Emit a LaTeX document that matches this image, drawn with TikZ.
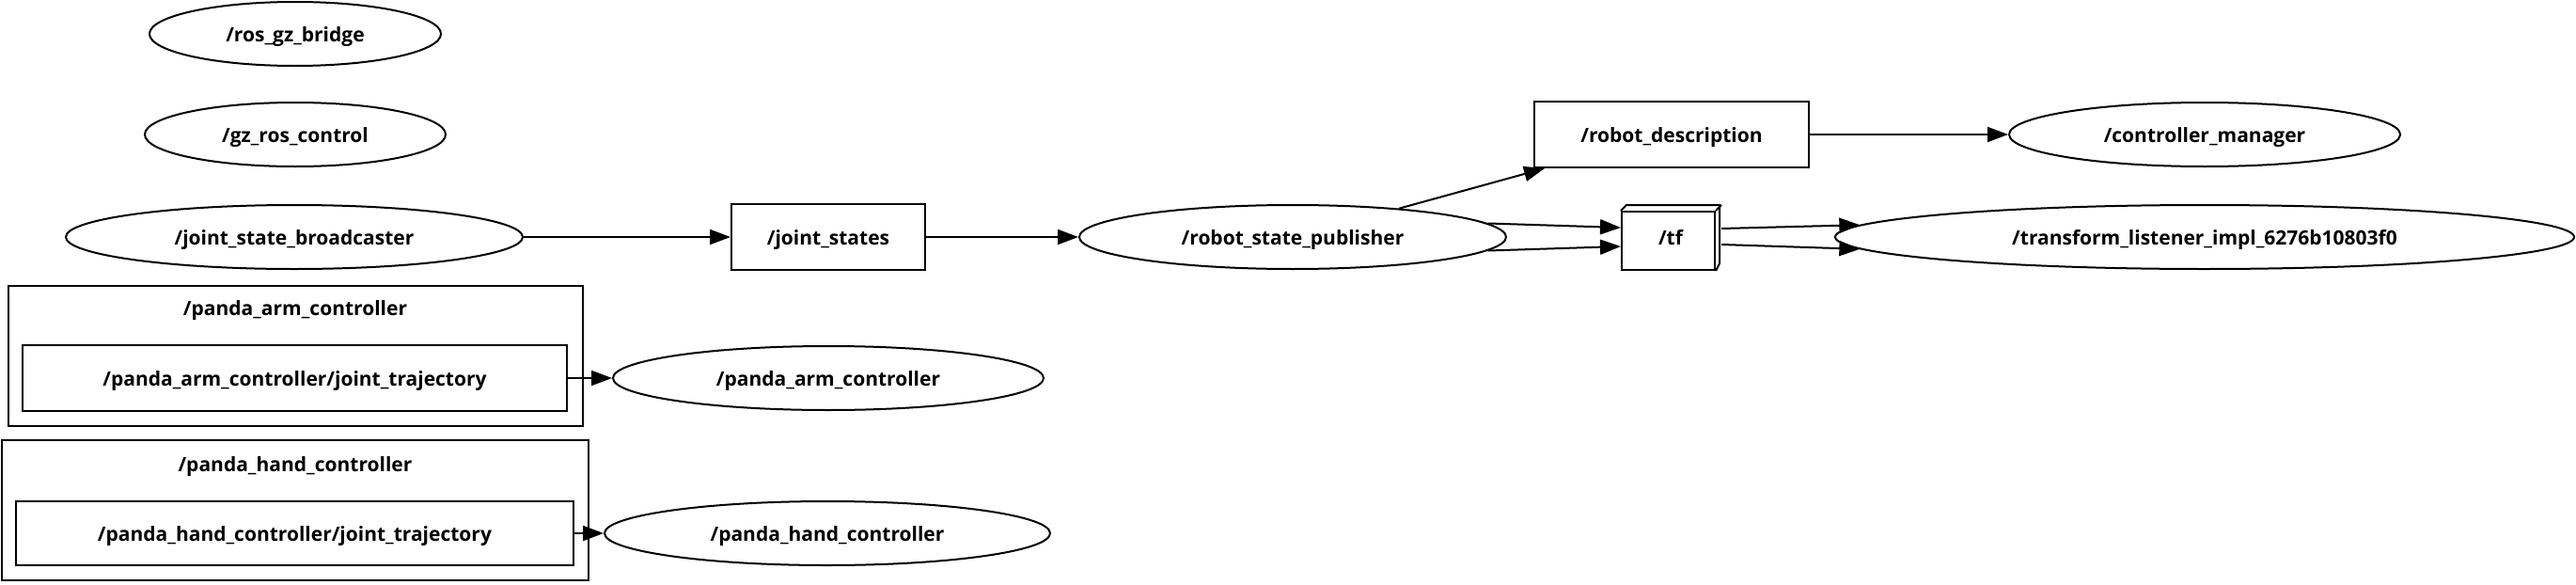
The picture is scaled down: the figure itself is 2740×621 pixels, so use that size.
\documentclass[tikz,border=0pt]{standalone}
\usepackage{fontspec}
\setmainfont{Open Sans}
\usetikzlibrary{arrows.meta,shapes.geometric}
\begin{document}
\begin{tikzpicture}[x=1pt,y=-1pt,
  every node/.style={font=\fontsize{21}{25}\selectfont\bfseries, inner sep=0pt, text height=20pt, text depth=3pt},
  ell/.style={ellipse, draw, line width=2pt, minimum height=68pt, minimum width=#1},
  bx/.style={rectangle, draw, line width=2pt, minimum height=70pt, minimum width=#1},
  bx/.default=100pt,
  clus/.style={rectangle, draw, line width=2pt, minimum height=149pt, minimum width=#1},
  arr/.style={-{Triangle[length=22pt,width=16pt]}, line width=2pt}]
\useasboundingbox (0,0) rectangle (2740,621);
% nodes
\node[ell=310pt] (rgb) at (314,36) {/ros\_gz\_bridge};
\node[ell=320pt] (grc) at (314,143) {/gz\_ros\_control};
\node[ell=486pt] (jsb) at (313,252) {/joint\_state\_broadcaster};
\node[bx=206pt] (js) at (881,252) {/joint\_states};
\node[ell=454pt] (rsp) at (1375,252) {/robot\_state\_publisher};
\node[bx=292pt] (rd) at (1778,143) {/robot\_description};
\node[ell=416pt] (cm) at (2345,143) {/controller\_manager};
\node[rectangle, draw, line width=2pt, minimum width=99pt, minimum height=62pt] (tf) at (1774.5,256) {};
\node (tflbl) at (1777,252) {/tf};
\draw[line width=2pt, line join=miter] (tf.north west) -- ++(6,-6) -- ++(99,0) -- ++(0,62) -- (tf.south east)
  (tf.north east) -- ++(6,-6);
\node[ell=786pt] (tl) at (2345,252) {/transform\_listener\_impl\_6276b10803f0};
% clusters
\node[clus=611pt] (armc) at (314.5,378.5) {};
\node (armlbl) at (314,327) {/panda\_arm\_controller};
\node[bx=579pt] (armjt) at (313.5,402) {/panda\_arm\_controller/joint\_trajectory};
\node[ell=458pt] (armell) at (881,402) {/panda\_arm\_controller};
\node[clus=624pt] (handc) at (314,542.5) {};
\node (handlbl) at (314,493) {/panda\_hand\_controller};
\node[bx=593pt, minimum height=68pt] (handjt) at (313.5,567) {/panda\_hand\_controller/joint\_trajectory};
\node[ell=474pt] (handell) at (880,567) {/panda\_hand\_controller};
% edges
\draw[arr] (jsb) -- (js);
\draw[arr] (js) -- (rsp);
\draw[arr] (rd) -- (cm);
\draw[arr] (armjt) -- (armell);
\draw[arr] (handjt) -- (handell);
\draw[arr] (rsp.15) -- ([xshift=12pt]rd.south west);
\draw[arr] (rsp.4) -- ([yshift=14pt]tf.west);
\draw[arr] (rsp.-4) -- ([yshift=-6pt]tf.west);
\draw[arr] ([xshift=6pt,yshift=13pt]tf.east) -- (tl.178);
\draw[arr] ([xshift=6pt,yshift=-4pt]tf.east) -- (tl.182);
\end{tikzpicture}
\end{document}
